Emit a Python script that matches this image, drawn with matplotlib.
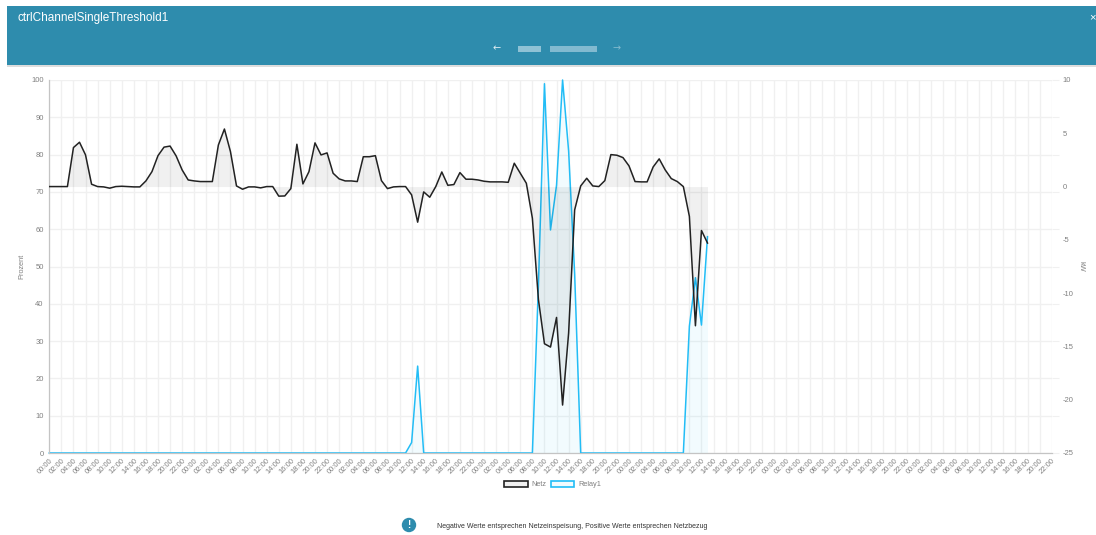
import matplotlib
matplotlib.use("Agg")
import matplotlib.pyplot as plt
from matplotlib.patches import Rectangle, Patch

plt.rcParams['font.family'] = ['Liberation Sans', 'DejaVu Sans']
plt.rcParams['axes.unicode_minus'] = False

W, H = 1096, 535

# stundenwerte, netz in kW (rechte achse)
netz_kw = [
    0, 0, 0, 0, 3.66, 4.16, 2.97, 0.22, 0, -0.03,
    -0.15, 0, 0.03, 0, -0.03, -0.03, 0.53, 1.4, 2.9, 3.7,
    3.8, 2.88, 1.56, 0.62, 0.53, 0.47, 0.47, 0.47, 3.9, 5.4,
    3.28, 0.06, -0.25, -0.03, -0.03, -0.12, 0, 0, -0.9, -0.88,
    -0.19, 3.97, 0.25, 1.4, 4.1, 2.97, 3.16, 1.25, 0.72, 0.53,
    0.53, 0.47, 2.8, 2.8, 2.9, 0.56, -0.19, -0.03, 0, 0,
    -0.78, -3.34, -0.5, -1.0, 0, 1.37, 0.12, 0.19, 1.31, 0.69,
    0.69, 0.62, 0.5, 0.44, 0.44, 0.44, 0.4, 2.19, 1.25, 0.31,
    -2.97, -10.6, -14.75, -15.06, -12.28, -20.5, -13.75, -2.19, 0.06, 0.78,
    0.06, 0, 0.56, 3.0, 2.94, 2.72, 1.94, 0.47, 0.44, 0.44,
    1.84, 2.6, 1.56, 0.75, 0.47, 0, -2.8, -13.06, -4.12, -5.3,
]
# relay in prozent (linke achse)
relay_pct = [0] * 60 + [2.8, 23.3] + [0] * 18 + [
    0, 45, 99, 59.8, 71.8, 100, 81, 48, 0,
] + [0] * 17 + [34, 47, 34.3, 58]
hours = list(range(len(netz_kw)))

day_labels = ['00:00', '02:00', '04:00', '06:00', '08:00', '10:00',
              '12:00', '14:00', '16:00', '18:00', '20:00', '22:00']
tick_labels = day_labels * 7
tick_hours = [2 * i for i in range(len(tick_labels))]

pct_ticks = [0, 10, 20, 30, 40, 50, 60, 70, 80, 90, 100]
kw_ticks = [-25, -20, -15, -10, -5, 0, 5, 10]

TEAL = '#2e8cad'
BLUE = '#22bdf6'
BLACK = '#222222'
GRID = '#f0f0f0'
AXIS = '#c4c4c4'
TXT = '#808080'


def fx(x):
    return x / W


def fy(y):
    return 1 - y / H


fig = plt.figure(figsize=(W / 100, H / 100), dpi=100, facecolor='white')
ax = fig.add_axes([fx(49.3), fy(453), fx(1051.7 - 49.3), (453 - 80) / H])
ax2 = ax.twinx()

ax.set_xlim(0, 166)
ax.set_ylim(0, 100)
ax2.set_ylim(-25, 10)

ax.set_xticks(tick_hours)
ax.set_xticklabels(tick_labels, rotation=45, ha='right', rotation_mode='anchor')
ax.set_yticks(pct_ticks)
ax2.set_yticks(kw_ticks)
ax.grid(True, color=GRID, lw=1)
ax.set_axisbelow(True)
ax.tick_params(axis='x', length=0, pad=3, labelsize=5.5, labelcolor=TXT)
ax.tick_params(axis='y', left=False, right=True, length=5, color=GRID,
               pad=-1, labelsize=5.5, labelcolor=TXT)
ax2.tick_params(axis='y', length=0, pad=8, labelsize=5.5, labelcolor=TXT)

for a in (ax, ax2):
    a.spines['top'].set_visible(False)
    a.spines['right'].set_visible(False)
    a.spines['left'].set_color(AXIS)
    a.spines['bottom'].set_color(AXIS)

ax.set_ylabel('Prozent', fontsize=5.3, color=TXT, labelpad=4.5)
ax2.set_ylabel('kW', fontsize=5.3, color=TXT, rotation=-90, labelpad=5, va='center')

ax2.fill_between(hours, netz_kw, 0, color='black', alpha=0.06, lw=0)
ax.fill_between(hours, relay_pct, 0, color=BLUE, alpha=0.06, lw=0)
ax.plot(hours, relay_pct, color=BLUE, lw=1.1, clip_on=False, zorder=3, label='Relay1')
ax2.plot(hours, netz_kw, color=BLACK, lw=1.1, zorder=4, label='Netz')

# kopfzeile
fig.add_artist(Rectangle((fx(7), fy(65.5)), fx(W - 7), 59.5 / H, color=TEAL, lw=0))
fig.add_artist(Rectangle((fx(7), fy(67)), fx(W - 7), 1.5 / H, color='#dddddd', lw=0))
fig.text(fx(17), fy(18.5), 'ctrlChannelSingleThreshold1', color='white', fontsize=8.45,
         va='center', ha='left')
fig.text(fx(497), fy(48.5), '←', color='white', alpha=0.85, fontsize=7,
         family='DejaVu Sans', va='center', ha='center')
fig.text(fx(617), fy(48.5), '→', color='white', alpha=0.4, fontsize=7,
         family='DejaVu Sans', va='center', ha='center')
fig.text(fx(1089.5), fy(17), '×', color='white', fontsize=8, va='center', ha='left')
# unkenntlich gemachtes datum
fig.add_artist(Rectangle((fx(518), fy(52)), fx(23), 6 / H, color='#8fc2d5', lw=0))
fig.add_artist(Rectangle((fx(550), fy(52)), fx(47), 6 / H, color='#82bad0', lw=0))

handles = [Patch(facecolor='#f0f0f0', edgecolor=BLACK, lw=1.2, label='Netz'),
           Patch(facecolor='#f2fbfe', edgecolor=BLUE, lw=1.2, label='Relay1')]
fig.legend(handles=handles, loc='center', bbox_to_anchor=(fx(552.5), fy(484.5)), ncol=2,
           frameon=False, fontsize=5.3, labelcolor=TXT, handlelength=3.2, handleheight=1,
           handletextpad=0.5, columnspacing=0.6)

# hinweis
info = plt.Circle((409, H - 525), 7.2, color=TEAL, lw=0, transform=None)
fig.add_artist(info)
fig.text(fx(409), fy(525), '!', color='white', fontsize=7, fontweight='bold',
         va='center', ha='center')
fig.text(fx(437), fy(526), 'Negative Werte entsprechen Netzeinspeisung, Positive Werte entsprechen Netzbezug',
         color='#333333', fontsize=5, va='center', ha='left')

fig.savefig('out.png', dpi=100)
